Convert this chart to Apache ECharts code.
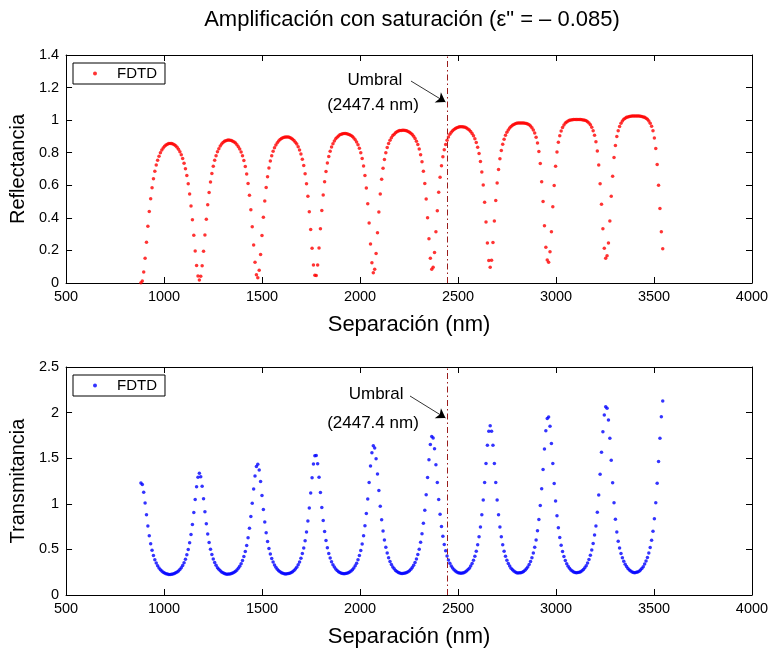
<!DOCTYPE html>
<html>
<head>
<meta charset="utf-8">
<script src="https://cdn.jsdelivr.net/npm/echarts@6/dist/echarts.min.js"></script>
<style>
  html, body { margin: 0; padding: 0; background: #fff; }
  #chart { width: 772px; height: 650px; }
</style>
</head>
<body>
<div id="chart"></div>
<script>
// Separación de la cavidad (nm) de cada punto simulado
const separacion = [
  882, 889.1, 896.2, 903.3, 910.4, 917.5, 924.6, 931.7, 938.8, 945.9,
  953, 960.1, 967.2, 974.3, 981.4, 988.5, 995.6, 1002.7, 1009.8, 1016.9,
  1024, 1031.1, 1038.2, 1045.3, 1052.4, 1059.5, 1066.6, 1073.7, 1080.8, 1087.9,
  1095, 1102.1, 1109.2, 1116.3, 1123.4, 1130.5, 1137.6, 1144.7, 1151.8, 1158.9,
  1166, 1173.1, 1180.2, 1187.3, 1194.4, 1201.5, 1208.6, 1215.7, 1222.8, 1229.9,
  1237, 1244.1, 1251.2, 1258.3, 1265.4, 1272.5, 1279.6, 1286.7, 1293.8, 1300.9,
  1308, 1315.1, 1322.2, 1329.3, 1336.4, 1343.5, 1350.6, 1357.7, 1364.8, 1371.9,
  1379, 1386.1, 1393.2, 1400.3, 1407.4, 1414.5, 1421.6, 1428.7, 1435.8, 1442.9,
  1450, 1457.1, 1464.2, 1471.3, 1478.4, 1485.5, 1492.6, 1499.7, 1506.8, 1513.9,
  1521, 1528.1, 1535.2, 1542.3, 1549.4, 1556.5, 1563.6, 1570.7, 1577.8, 1584.9,
  1592, 1599.1, 1606.2, 1613.3, 1620.4, 1627.5, 1634.6, 1641.7, 1648.8, 1655.9,
  1663, 1670.1, 1677.2, 1684.3, 1691.4, 1698.5, 1705.6, 1712.7, 1719.8, 1726.9,
  1734, 1741.1, 1748.2, 1755.3, 1762.4, 1769.5, 1776.6, 1783.7, 1790.8, 1797.9,
  1805, 1812.1, 1819.2, 1826.3, 1833.4, 1840.5, 1847.6, 1854.7, 1861.8, 1868.9,
  1876, 1883.1, 1890.2, 1897.3, 1904.4, 1911.5, 1918.6, 1925.7, 1932.8, 1939.9,
  1947, 1954.1, 1961.2, 1968.3, 1975.4, 1982.5, 1989.6, 1996.7, 2003.8, 2010.9,
  2018, 2025.1, 2032.2, 2039.3, 2046.4, 2053.5, 2060.6, 2067.7, 2074.8, 2081.9,
  2089, 2096.1, 2103.2, 2110.3, 2117.4, 2124.5, 2131.6, 2138.7, 2145.8, 2152.9,
  2160, 2167.1, 2174.2, 2181.3, 2188.4, 2195.5, 2202.6, 2209.7, 2216.8, 2223.9,
  2231, 2238.1, 2245.2, 2252.3, 2259.4, 2266.5, 2273.6, 2280.7, 2287.8, 2294.9,
  2302, 2309.1, 2316.2, 2323.3, 2330.4, 2337.5, 2344.6, 2351.7, 2358.8, 2365.9,
  2373, 2380.1, 2387.2, 2394.3, 2401.4, 2408.5, 2415.6, 2422.7, 2429.8, 2436.9,
  2444, 2451.1, 2458.2, 2465.3, 2472.4, 2479.5, 2486.6, 2493.7, 2500.8, 2507.9,
  2515, 2522.1, 2529.2, 2536.3, 2543.4, 2550.5, 2557.6, 2564.7, 2571.8, 2578.9,
  2586, 2593.1, 2600.2, 2607.3, 2614.4, 2621.5, 2628.6, 2635.7, 2642.8, 2649.9,
  2657, 2664.1, 2671.2, 2678.3, 2685.4, 2692.5, 2699.6, 2706.7, 2713.8, 2720.9,
  2728, 2735.1, 2742.2, 2749.3, 2756.4, 2763.5, 2770.6, 2777.7, 2784.8, 2791.9,
  2799, 2806.1, 2813.2, 2820.3, 2827.4, 2834.5, 2841.6, 2848.7, 2855.8, 2862.9,
  2870, 2877.1, 2884.2, 2891.3, 2898.4, 2905.5, 2912.6, 2919.7, 2926.8, 2933.9,
  2941, 2948.1, 2955.2, 2962.3, 2969.4, 2976.5, 2983.6, 2990.7, 2997.8, 3004.9,
  3012, 3019.1, 3026.2, 3033.3, 3040.4, 3047.5, 3054.6, 3061.7, 3068.8, 3075.9,
  3083, 3090.1, 3097.2, 3104.3, 3111.4, 3118.5, 3125.6, 3132.7, 3139.8, 3146.9,
  3154, 3161.1, 3168.2, 3175.3, 3182.4, 3189.5, 3196.6, 3203.7, 3210.8, 3217.9,
  3225, 3232.1, 3239.2, 3246.3, 3253.4, 3260.5, 3267.6, 3274.7, 3281.8, 3288.9,
  3296, 3303.1, 3310.2, 3317.3, 3324.4, 3331.5, 3338.6, 3345.7, 3352.8, 3359.9,
  3367, 3374.1, 3381.2, 3388.3, 3395.4, 3402.5, 3409.6, 3416.7, 3423.8, 3430.9,
  3438, 3445.1, 3452.2, 3459.3, 3466.4, 3473.5, 3480.6, 3487.7, 3494.8, 3501.9,
  3509, 3516.1, 3523.2, 3530.3, 3537.4, 3544.5
];

// Reflectancia FDTD en cada separación
const reflectancia = [
  0.002, 0.012, 0.068, 0.152, 0.250, 0.348, 0.439, 0.517, 0.585, 0.640, 0.686, 0.724, 0.754, 0.779, 0.800, 0.816, 0.829, 0.839, 0.847, 0.852, 0.856, 0.857,
  0.856, 0.854, 0.849, 0.842, 0.833, 0.821, 0.806, 0.788, 0.765, 0.736, 0.702, 0.660, 0.609, 0.547, 0.473, 0.388, 0.293, 0.196, 0.108, 0.043, 0.018,
  0.041, 0.106, 0.195, 0.295, 0.392, 0.480, 0.556, 0.620, 0.673, 0.717, 0.753, 0.782, 0.806, 0.825, 0.841, 0.853, 0.862, 0.870, 0.874, 0.877,
  0.878, 0.877, 0.875, 0.871, 0.866, 0.859, 0.849, 0.837, 0.823, 0.804, 0.781, 0.752, 0.715, 0.669, 0.611, 0.539, 0.450, 0.346, 0.233, 0.127, 0.050,
  0.032, 0.079, 0.175, 0.291, 0.404, 0.503, 0.586, 0.653, 0.706, 0.749, 0.782, 0.809, 0.831, 0.848, 0.861, 0.872, 0.881, 0.887, 0.892, 0.895, 0.897,
  0.897, 0.896, 0.893, 0.889, 0.883, 0.875, 0.865, 0.853, 0.836, 0.817, 0.792, 0.760, 0.721, 0.671, 0.610, 0.532, 0.438, 0.329, 0.214, 0.111, 0.047,
  0.046, 0.110, 0.215, 0.333, 0.445, 0.541, 0.622, 0.685, 0.737, 0.777, 0.809, 0.835, 0.855, 0.872, 0.885, 0.895, 0.903, 0.910, 0.914, 0.917, 0.918,
  0.918, 0.917, 0.914, 0.911, 0.906, 0.899, 0.891, 0.880, 0.866, 0.849, 0.828, 0.800, 0.765, 0.719, 0.660, 0.583, 0.487, 0.368, 0.240, 0.124, 0.063,
  0.084, 0.181, 0.309, 0.436, 0.547, 0.637, 0.705, 0.759, 0.800, 0.832, 0.857, 0.877, 0.892, 0.905, 0.914, 0.922, 0.928, 0.933, 0.936, 0.937, 0.938,
  0.938, 0.937, 0.935, 0.931, 0.926, 0.920, 0.912, 0.901, 0.888, 0.871, 0.850, 0.823, 0.788, 0.744, 0.686, 0.611, 0.516, 0.400, 0.271, 0.152, 0.084,
  0.097, 0.188, 0.314, 0.444, 0.557, 0.649, 0.720, 0.775, 0.818, 0.851, 0.877, 0.897, 0.913, 0.926, 0.935, 0.943, 0.949, 0.954, 0.957, 0.959, 0.960,
  0.960, 0.958, 0.956, 0.951, 0.946, 0.939, 0.930, 0.918, 0.904, 0.886, 0.863, 0.833, 0.795, 0.746, 0.682, 0.601, 0.496, 0.374, 0.245, 0.138, 0.096,
  0.139, 0.249, 0.381, 0.507, 0.614, 0.697, 0.763, 0.814, 0.852, 0.883, 0.907, 0.926, 0.940, 0.952, 0.961, 0.969, 0.974, 0.978, 0.981, 0.983,
  0.983, 0.983, 0.983, 0.982, 0.981, 0.979, 0.976, 0.971, 0.964, 0.954, 0.940, 0.921, 0.895, 0.860, 0.807, 0.734, 0.621, 0.501, 0.352, 0.220, 0.141,
  0.128, 0.192, 0.314, 0.468, 0.598, 0.717, 0.805, 0.864, 0.904, 0.933, 0.955, 0.970, 0.982, 0.989, 0.995, 0.999, 1.001, 1.003, 1.004, 1.004, 1.004,
  1.004, 1.004, 1.004, 1.003, 1.001, 0.999, 0.996, 0.990, 0.983, 0.971, 0.956, 0.935, 0.907, 0.868, 0.810, 0.725, 0.609, 0.483, 0.333, 0.214, 0.152,
  0.168, 0.246, 0.381, 0.533, 0.656, 0.771, 0.845, 0.899, 0.935, 0.961, 0.981, 0.995, 1.006, 1.012, 1.017, 1.020, 1.023, 1.024, 1.025, 1.025, 1.025,
  1.025, 1.025, 1.025, 1.024, 1.022, 1.020, 1.017, 1.012, 1.005, 0.995, 0.981, 0.962, 0.935, 0.890, 0.826, 0.728, 0.600, 0.458, 0.315, 0.210
];

// Transmitancia FDTD en cada separación
const transmitancia = [
  1.227, 1.211, 1.128, 1.010, 0.880, 0.757, 0.650, 0.562, 0.490, 0.433, 0.387, 0.350, 0.320, 0.297, 0.278, 0.262, 0.250, 0.241, 0.234, 0.229, 0.226, 0.225,
  0.228, 0.231, 0.236, 0.243, 0.252, 0.264, 0.280, 0.299, 0.324, 0.354, 0.392, 0.440, 0.498, 0.572, 0.664, 0.774, 0.905, 1.048, 1.186, 1.292, 1.335,
  1.296, 1.193, 1.056, 0.913, 0.781, 0.670, 0.577, 0.502, 0.443, 0.394, 0.356, 0.325, 0.300, 0.281, 0.265, 0.253, 0.243, 0.236, 0.231, 0.228,
  0.230, 0.231, 0.235, 0.240, 0.249, 0.260, 0.274, 0.292, 0.314, 0.343, 0.377, 0.421, 0.476, 0.543, 0.629, 0.733, 0.860, 1.007, 1.163, 1.306, 1.409,
  1.433, 1.370, 1.245, 1.091, 0.937, 0.800, 0.683, 0.587, 0.511, 0.449, 0.400, 0.361, 0.329, 0.304, 0.283, 0.267, 0.254, 0.245, 0.238, 0.233, 0.231,
  0.233, 0.235, 0.239, 0.246, 0.255, 0.268, 0.285, 0.305, 0.331, 0.363, 0.404, 0.454, 0.516, 0.595, 0.692, 0.812, 0.955, 1.118, 1.287, 1.436, 1.527,
  1.529, 1.440, 1.292, 1.123, 0.960, 0.816, 0.695, 0.598, 0.518, 0.456, 0.405, 0.364, 0.332, 0.306, 0.285, 0.269, 0.256, 0.246, 0.239, 0.235, 0.233,
  0.236, 0.238, 0.244, 0.252, 0.263, 0.278, 0.296, 0.320, 0.349, 0.386, 0.432, 0.488, 0.560, 0.649, 0.760, 0.895, 1.054, 1.234, 1.414, 1.561, 1.637,
  1.612, 1.494, 1.328, 1.145, 0.974, 0.825, 0.703, 0.603, 0.523, 0.460, 0.408, 0.367, 0.334, 0.308, 0.287, 0.270, 0.257, 0.247, 0.241, 0.237, 0.235,
  0.238, 0.241, 0.246, 0.255, 0.266, 0.282, 0.301, 0.326, 0.357, 0.395, 0.443, 0.503, 0.578, 0.672, 0.787, 0.930, 1.098, 1.289, 1.483, 1.649, 1.738,
  1.722, 1.604, 1.429, 1.234, 1.048, 0.886, 0.752, 0.643, 0.554, 0.485, 0.428, 0.383, 0.347, 0.318, 0.295, 0.277, 0.262, 0.252, 0.244, 0.240, 0.238,
  0.241, 0.245, 0.252, 0.262, 0.276, 0.294, 0.317, 0.346, 0.381, 0.426, 0.481, 0.551, 0.638, 0.746, 0.881, 1.041, 1.234, 1.443, 1.643, 1.795, 1.855,
  1.795, 1.643, 1.443, 1.234, 1.041, 0.881, 0.746, 0.638, 0.551, 0.481, 0.426, 0.381, 0.346, 0.317, 0.294, 0.276, 0.262, 0.252, 0.245, 0.241,
  0.243, 0.245, 0.250, 0.259, 0.271, 0.287, 0.308, 0.334, 0.367, 0.409, 0.460, 0.524, 0.604, 0.704, 0.829, 0.981, 1.166, 1.377, 1.600, 1.800, 1.934,
  1.952, 1.850, 1.662, 1.441, 1.223, 1.032, 0.868, 0.737, 0.631, 0.545, 0.477, 0.422, 0.378, 0.343, 0.315, 0.293, 0.275, 0.262, 0.252, 0.246, 0.243,
  0.246, 0.249, 0.255, 0.266, 0.280, 0.298, 0.322, 0.352, 0.389, 0.436, 0.494, 0.566, 0.657, 0.757, 0.906, 1.096, 1.323, 1.565, 1.790, 1.974, 2.065,
  2.047, 1.919, 1.718, 1.477, 1.231, 1.012, 0.830, 0.690, 0.590, 0.515, 0.455, 0.408, 0.369, 0.338, 0.312, 0.291, 0.275, 0.262, 0.253, 0.248, 0.245,
  0.249, 0.253, 0.261, 0.273, 0.290, 0.311, 0.339, 0.373, 0.412, 0.460, 0.520, 0.600, 0.700, 0.835, 1.012, 1.225, 1.465, 1.720, 1.955, 2.128
];

// Marcas de los ejes
const ticksSeparacion = [500, 1000, 1500, 2000, 2500, 3000, 3500, 4000];
const ticksReflectancia = [0, 0.2, 0.4, 0.6, 0.8, 1, 1.2, 1.4];
const ticksTransmitancia = [0, 0.5, 1, 1.5, 2, 2.5];

// Separación umbral de la amplificación
const umbral = 2447.4;

// Rótulos de la anotación del umbral (coordenadas en unidades de datos)
const anotacionR = {
  texto: [2076, 1.246], valor: [2066, 1.093],
  desde: [2260, 1.240], hasta: [2436, 1.111]
};
const anotacionT = {
  texto: [2082, 2.204], valor: [2066, 1.886],
  desde: [2255, 2.182], hasta: [2436, 1.941]
};

const FUENTE = '"Liberation Sans", Arial, Helvetica, sans-serif';

function rango(t) {
  return { min: t[0], max: t[t.length - 1], interval: t[1] - t[0] };
}

function ejeX(g, pos, nombre) {
  return Object.assign({
    type: 'value', gridIndex: g, position: pos,
    axisLine: { show: true, onZero: false, lineStyle: { color: '#000', width: 1 } },
    axisTick: { show: true, inside: true, length: 6, lineStyle: { color: '#000', width: 1 } },
    axisLabel: {
      show: pos === 'bottom', color: '#000', fontSize: 14.5, margin: 6, fontFamily: FUENTE,
      formatter: (v) => String(v)
    },
    splitLine: { show: false },
    name: nombre || '', nameLocation: 'middle', nameGap: 31,
    nameTextStyle: { color: '#000', fontSize: 22, fontFamily: FUENTE }
  }, rango(ticksSeparacion));
}

function ejeY(g, pos, ticks, nombre) {
  return Object.assign({
    type: 'value', gridIndex: g, position: pos,
    axisLine: { show: true, onZero: false, lineStyle: { color: '#000', width: 1 } },
    axisTick: { show: true, inside: true, length: 6, lineStyle: { color: '#000', width: 1 } },
    axisLabel: {
      show: pos === 'left', color: '#000', fontSize: 14.5, margin: 7, fontFamily: FUENTE,
      formatter: (v) => String(v)
    },
    splitLine: { show: false },
    name: nombre || '', nameLocation: 'middle', nameRotate: 90, nameGap: 33,
    nameTextStyle: { color: '#000', fontSize: 20, fontFamily: FUENTE }
  }, rango(ticks));
}

function puntos(valores) {
  return separacion.map((x, i) => [x, valores[i]]);
}

function marcaUmbral(a) {
  return {
    silent: true, animation: false,
    symbol: ['none', 'none'],
    label: { show: false },
    emphasis: { disabled: true },
    lineStyle: { type: 'solid', color: '#000', width: 1 },
    data: [
      { xAxis: umbral, lineStyle: { color: '#9a1c1c', width: 1, type: [6, 3, 1.5, 3] } },
      [
        { coord: a.desde, symbol: 'none', lineStyle: { color: '#000', width: 0.8, type: 'solid' } },
        { coord: a.hasta, symbol: 'arrow', symbolSize: 9 }
      ]
    ]
  };
}

function rotulosUmbral(a) {
  return {
    silent: true, animation: false,
    symbol: 'circle', symbolSize: 0,
    itemStyle: { color: 'transparent' },
    label: { show: true, position: 'inside', formatter: '{b}', color: '#000', fontSize: 17, fontFamily: FUENTE },
    data: [
      { name: 'Umbral', coord: a.texto },
      { name: '(2447.4 nm)', coord: a.valor }
    ]
  };
}

function leyenda(top, color) {
  return {
    data: [{ name: 'FDTD', itemStyle: { color: color } }],
    left: 73, top: top,
    orient: 'horizontal', icon: 'circle',
    itemWidth: 34, itemHeight: 4, itemGap: 0,
    padding: [3, 8, 3, 20],
    borderColor: '#000', borderWidth: 1, borderRadius: 0,
    backgroundColor: '#fff',
    selectedMode: false,
    textStyle: { color: '#000', fontSize: 15, fontFamily: FUENTE }
  };
}

const chart = echarts.init(document.getElementById('chart'), null, { renderer: 'canvas' });

chart.setOption({
  animation: false,
  backgroundColor: '#fff',
  textStyle: { fontFamily: FUENTE },
  title: {
    text: 'Amplificación con saturación (ε" = – 0.085)',
    left: 412, top: 9, textAlign: 'center', padding: 0,
    textStyle: { color: '#000', fontSize: 22, fontWeight: 'normal', fontFamily: FUENTE }
  },
  legend: [leyenda(63, '#ff0000'), leyenda(375, '#0000ff')],
  grid: [
    { left: 66, top: 55, width: 686, height: 228 },
    { left: 66, top: 367, width: 686, height: 228 }
  ],
  xAxis: [
    ejeX(0, 'bottom', 'Separación (nm)'),
    ejeX(0, 'top'),
    ejeX(1, 'bottom', 'Separación (nm)'),
    ejeX(1, 'top')
  ],
  yAxis: [
    ejeY(0, 'left', ticksReflectancia, 'Reflectancia'),
    ejeY(0, 'right', ticksReflectancia),
    ejeY(1, 'left', ticksTransmitancia, 'Transmitancia'),
    ejeY(1, 'right', ticksTransmitancia)
  ],
  series: [
    {
      name: 'FDTD', type: 'scatter', xAxisIndex: 0, yAxisIndex: 0,
      data: puntos(reflectancia),
      symbol: 'circle', symbolSize: 3.5,
      itemStyle: { color: '#ff0000' },
      emphasis: { disabled: true },
      markLine: marcaUmbral(anotacionR),
      markPoint: rotulosUmbral(anotacionR)
    },
    {
      name: 'FDTD', type: 'scatter', xAxisIndex: 2, yAxisIndex: 2,
      data: puntos(transmitancia),
      symbol: 'circle', symbolSize: 3.5,
      itemStyle: { color: '#0000ff' },
      emphasis: { disabled: true },
      markLine: marcaUmbral(anotacionT),
      markPoint: rotulosUmbral(anotacionT)
    }
  ]
});
</script>
</body>
</html>
